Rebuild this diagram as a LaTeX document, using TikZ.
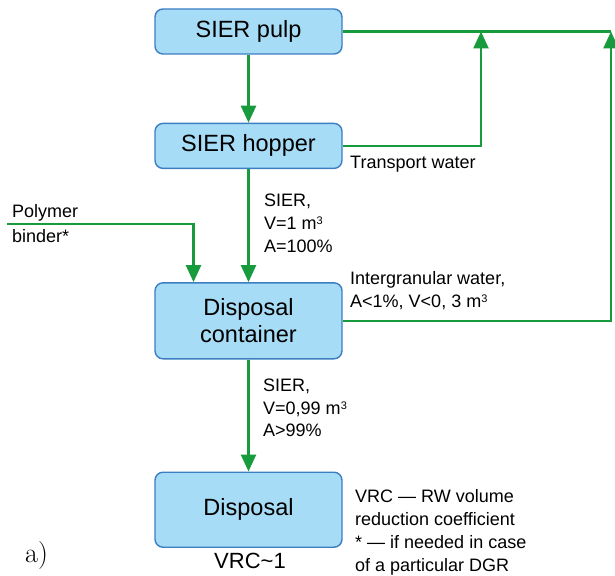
\documentclass[tikz,border=0pt]{standalone}
\usepackage{fontspec}
\setsansfont{Liberation Sans}
\usetikzlibrary{arrows.meta, positioning}
\definecolor{boxfill}{HTML}{A6DCF5}
\definecolor{boxline}{HTML}{3C7EC2}
\definecolor{flow}{HTML}{179B3D}
\newcommand{\cubic}{m\raisebox{5pt}{\fontsize{11}{11}\selectfont 3}}
\begin{document}
\begin{tikzpicture}[x=1pt, y=-1pt,
        box/.style={draw=boxline, line width=1.4pt, rounded corners=8pt, fill=boxfill, minimum width=187pt, minimum height=45pt, inner sep=0pt, align=center, font=\sffamily\fontsize{23.5}{27}\selectfont},
        lbl/.style={anchor=north west, inner sep=0pt, align=left, font=\sffamily\fontsize{18}{23}\selectfont},
        line/.style={draw=flow, line width=2.6pt},
        arr/.style={line, -{Triangle[length=17pt, width=15pt]}}
    ]
        \useasboundingbox (0,0) rectangle (615,575);
        \node[box] (pulp) at (248.5,31.5) {SIER pulp};
        \node[box, below=68pt of pulp] (hop) {SIER hopper};
        \node[box, below=113pt of hop, minimum height=76pt] (cont) {Disposal\\container};
        \node[box, below=112pt of cont, minimum height=75pt] (disp) {Disposal};
        \node[anchor=base, inner sep=0pt, font=\sffamily\fontsize{22}{26}\selectfont] (vrc) at (250,568) {VRC\textasciitilde 1};
        \node[anchor=base west, inner sep=0pt, font=\rmfamily\fontsize{28}{32}\selectfont] (tag) at (25,562) {a)};
        \coordinate (tw) at (481,31.5);
        \coordinate (ret) at (611,31.5);
        \coordinate (pb) at (7,224);
        \draw[arr] (pulp) -- (hop);
        \draw[arr] (hop) -- (cont);
        \draw[arr] (cont) -- (disp);
        \draw[line] (pulp.east) -- (ret);
        \draw[arr] (hop.east) -| (tw);
        \draw[arr] (cont.east) -| (ret);
        \draw[arr] (pb) -| ([xshift=-55pt]cont.north);
        \node[lbl] (twl) at (350,156) {Transport water};
        \node[lbl] (in1) at (264,194) {SIER,\\V=1 \cubic\\A=100\%};
        \node[lbl, font=\sffamily\fontsize{18}{25}\selectfont] (pol) at (12,204) {Polymer\\binder*};
        \node[lbl] (igw) at (350,271) {Intergranular water,\\A<1\%, V<0, 3 \cubic};
        \node[lbl, font=\sffamily\fontsize{18}{22.5}\selectfont] (out1) at (263,379) {SIER,\\V=0,99 \cubic\\A>99\%};
        \node[lbl] (note) at (355,489) {VRC — RW volume\\reduction coefficient\\* — if needed in case\\of a particular DGR};
    \end{tikzpicture}
\end{document}
